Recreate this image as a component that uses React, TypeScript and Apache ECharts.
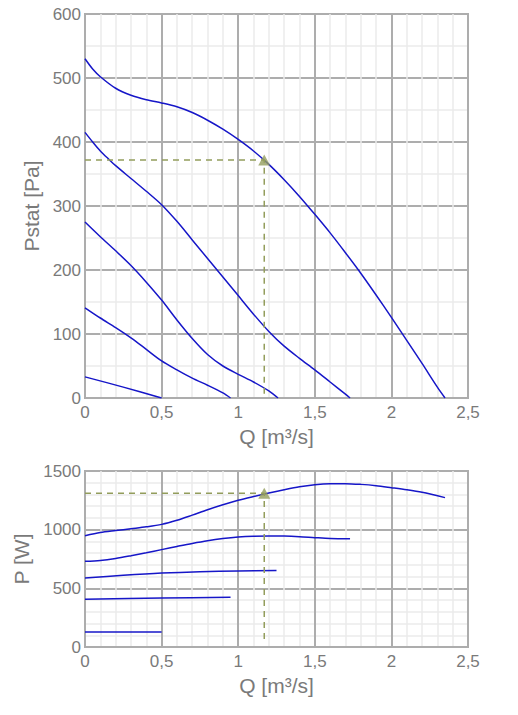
import React, { useEffect, useRef } from "react";
import * as echarts from "echarts";

// Static pressure curves (Q in m³/s, P in Pa)
const pCurve1Q = [0, 0.05, 0.1, 0.2, 0.3, 0.4, 0.5, 0.6, 0.7, 0.8, 0.9, 1.0, 1.1, 1.2, 1.3, 1.4, 1.5, 1.6, 1.7, 1.8, 1.9, 2.0, 2.1, 2.2, 2.3, 2.35];
const pCurve1P = [530, 514, 502, 484, 473, 466, 461, 455, 446, 434, 420, 404, 386, 365, 341, 315, 287, 258, 227, 195, 161, 126, 90, 54, 17, 0];
const pCurve2Q = [0, 0.05, 0.1, 0.16, 0.2, 0.3, 0.4, 0.5, 0.6, 0.7, 0.8, 0.9, 1.0, 1.1, 1.2, 1.3, 1.4, 1.5, 1.6, 1.7, 1.73];
const pCurve2P = [415, 400, 386, 372, 363, 343, 323, 302, 276, 247, 218, 189, 160, 131, 104, 81, 62, 44, 25, 6, 0];
const pCurve3Q = [0, 0.1, 0.2, 0.3, 0.4, 0.5, 0.6, 0.7, 0.8, 0.9, 1.0, 1.1, 1.2, 1.26];
const pCurve3P = [275, 252, 230, 207, 181, 153, 122, 93, 68, 50, 37, 25, 11, 0];
const pCurve4Q = [0, 0.1, 0.2, 0.3, 0.4, 0.5, 0.6, 0.7, 0.8, 0.9, 0.95];
const pCurve4P = [141, 125, 110, 94, 76, 58, 44, 31, 20, 8, 0];
const pCurve5Q = [0, 0.25, 0.5];
const pCurve5P = [33, 17, 0];

// Power curves (Q in m³/s, P in W)
const wCurve1Q = [0, 0.1, 0.2, 0.3, 0.4, 0.5, 0.6, 0.7, 0.8, 0.9, 1.0, 1.1, 1.2, 1.3, 1.4, 1.5, 1.6, 1.7, 1.8, 1.9, 2.0, 2.1, 2.2, 2.35];
const wCurve1P = [949, 975, 992, 1008, 1024, 1045, 1080, 1124, 1170, 1212, 1250, 1282, 1312, 1340, 1365, 1382, 1391, 1392, 1386, 1375, 1358, 1340, 1318, 1273];
const wCurve2Q = [0, 0.1, 0.2, 0.3, 0.4, 0.5, 0.6, 0.7, 0.8, 0.9, 1.0, 1.1, 1.2, 1.3, 1.4, 1.5, 1.6, 1.73];
const wCurve2P = [730, 738, 755, 778, 803, 830, 857, 883, 906, 924, 937, 944, 946, 945, 940, 932, 925, 922];
const wCurve3Q = [0, 0.25, 0.5, 0.75, 1.0, 1.25];
const wCurve3P = [588, 611, 630, 642, 648, 653];
const wCurve4Q = [0, 0.5, 0.95];
const wCurve4P = [406, 418, 423];
const wCurve5Q = [0, 0.5];
const wCurve5P = [128, 128];

// Operating point
const opQ = 1.17;
const opStatic = 372;
const opPower = 1310;
const opPowerLineEnd = 40;

const zip = (xs: number[], ys: number[]) => xs.map((x, i) => [x, ys[i]]);

const BLUE = "#1616c8";
const OLIVE = "#939d5c";
const TEXT = "#7a7a7a";
const MAJOR = "#adadad";
const MINOR = "#ebebeb";
const FONT = "Liberation Sans, Arial, sans-serif";

const fmtX = (v: number) => String(v).replace(".", ",");
const fmtY = (v: number) => String(v);

function xAxis(gridIndex: number) {
  return {
    type: "value",
    gridIndex,
    min: 0,
    max: 2.5,
    interval: 0.5,
    name: "Q [m³/s]",
    nameLocation: "middle",
    nameGap: 28,
    nameTextStyle: { color: TEXT, fontSize: 21, fontFamily: FONT },
    axisLine: { show: true, lineStyle: { color: MAJOR, width: 2 } },
    axisTick: { show: false },
    axisLabel: { color: TEXT, fontSize: 17, fontFamily: FONT, margin: 6, formatter: fmtX },
    splitLine: { show: true, lineStyle: { color: MAJOR, width: 2 } },
    minorTick: { show: false, splitNumber: 5 },
    minorSplitLine: { show: true, lineStyle: { color: MINOR, width: 1.5 } },
  };
}

function yAxis(gridIndex: number, max: number, interval: number, minorSplit: number, name: string) {
  return {
    type: "value",
    gridIndex,
    min: 0,
    max,
    interval,
    name,
    nameLocation: "middle",
    nameGap: 38,
    nameTextStyle: { color: TEXT, fontSize: 21, fontFamily: FONT },
    axisLine: { show: true, lineStyle: { color: MAJOR, width: 2 } },
    axisTick: { show: false },
    axisLabel: { color: TEXT, fontSize: 17, fontFamily: FONT, margin: 4, formatter: fmtY },
    splitLine: { show: true, lineStyle: { color: MAJOR, width: 2 } },
    minorTick: { show: false, splitNumber: minorSplit },
    minorSplitLine: { show: true, lineStyle: { color: MINOR, width: 1.5 } },
  };
}

function curve(data: number[][], axisIndex: number) {
  return {
    type: "line",
    xAxisIndex: axisIndex,
    yAxisIndex: axisIndex,
    data,
    smooth: 0.3,
    showSymbol: false,
    symbol: "none",
    lineStyle: { color: BLUE, width: 1.5 },
    silent: true,
    z: 3,
  };
}

export default function App() {
  const ref = useRef<HTMLDivElement>(null);

  useEffect(() => {
    if (!ref.current) return;
    const chart = echarts.init(ref.current, undefined, { renderer: "svg" });
    chart.setOption({
      animation: false,
      backgroundColor: "#ffffff",
      grid: [
        { left: 85, top: 14, width: 383, height: 384, show: true, borderColor: MAJOR, borderWidth: 2 },
        { left: 85, top: 471, width: 383, height: 176, show: true, borderColor: MAJOR, borderWidth: 2 },
      ],
      xAxis: [xAxis(0), xAxis(1)],
      yAxis: [
        yAxis(0, 600, 100, 2, "Pstat [Pa]"),
        yAxis(1, 1500, 500, 5, "P [W]"),
      ],
      series: [
        curve(zip(pCurve1Q, pCurve1P), 0),
        curve(zip(pCurve2Q, pCurve2P), 0),
        curve(zip(pCurve3Q, pCurve3P), 0),
        curve(zip(pCurve4Q, pCurve4P), 0),
        curve(zip(pCurve5Q, pCurve5P), 0),
        curve(zip(wCurve1Q, wCurve1P), 1),
        curve(zip(wCurve2Q, wCurve2P), 1),
        curve(zip(wCurve3Q, wCurve3P), 1),
        curve(zip(wCurve4Q, wCurve4P), 1),
        curve(zip(wCurve5Q, wCurve5P), 1),
        {
          type: "line",
          xAxisIndex: 0,
          yAxisIndex: 0,
          data: [[0, opStatic], [opQ, opStatic], [opQ, 0]],
          showSymbol: false,
          symbol: "none",
          lineStyle: { color: OLIVE, width: 1.5, type: [6, 5] },
          z: 4,
        },
        {
          type: "line",
          xAxisIndex: 1,
          yAxisIndex: 1,
          data: [[0, opPower], [opQ, opPower], [opQ, opPowerLineEnd]],
          showSymbol: false,
          symbol: "none",
          lineStyle: { color: OLIVE, width: 1.5, type: [6, 5] },
          z: 4,
        },
        {
          type: "scatter",
          xAxisIndex: 0,
          yAxisIndex: 0,
          data: [[opQ, opStatic]],
          symbol: "triangle",
          symbolSize: [12, 11],
          itemStyle: { color: OLIVE },
          z: 5,
        },
        {
          type: "scatter",
          xAxisIndex: 1,
          yAxisIndex: 1,
          data: [[opQ, opPower]],
          symbol: "triangle",
          symbolSize: [12, 11],
          itemStyle: { color: OLIVE },
          z: 5,
        },
      ],
    });
    return () => chart.dispose();
  }, []);

  return (
    <div
      ref={ref}
      style={{ position: "fixed", left: 0, top: 0, width: 518, height: 715, background: "#fff" }}
    />
  );
}
